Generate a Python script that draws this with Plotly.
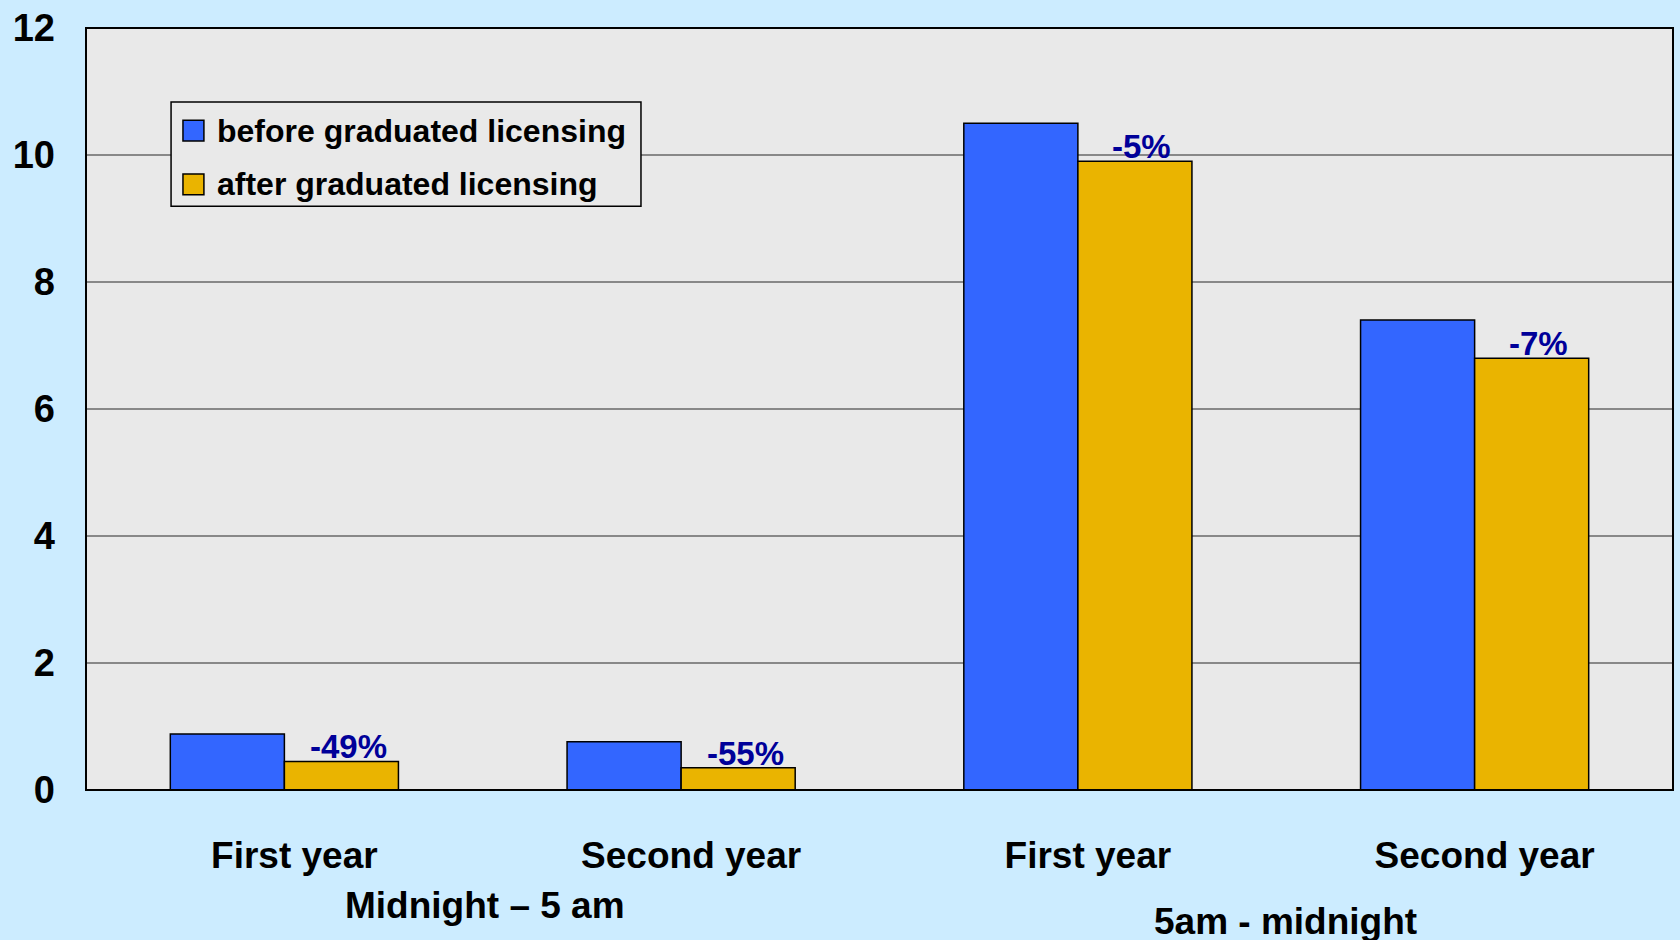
import plotly.graph_objects as go

# Crash involvement data by driver year and time of day
categories = ["First year", "Second year", "First year", "Second year"]
before_values = [0.88, 0.76, 10.5, 7.4]
after_values = [0.45, 0.35, 9.9, 6.8]
pct_change = ["-49%", "-55%", "-5%", "-7%"]
series_names = ["before graduated licensing", "after graduated licensing"]
group_labels = ["Midnight \u2013 5 am", "5am - midnight"]
y_ticks = [0, 2, 4, 6, 8, 10, 12]

BLUE = "#3366FF"
GOLD = "#EAB400"
NAVY = "#000099"
FONT = "Liberation Sans, Arial, sans-serif"
BARGAP = 0.425

x_pos = list(range(len(categories)))

fig = go.Figure()
fig.add_trace(go.Bar(
    x=x_pos, y=before_values, name=series_names[0],
    marker=dict(color=BLUE, line=dict(color="black", width=1.5)),
    showlegend=False,
))
fig.add_trace(go.Bar(
    x=x_pos, y=after_values, name=series_names[1],
    marker=dict(color=GOLD, line=dict(color="black", width=1.5)),
    showlegend=False,
))

fig.update_layout(
    width=1680, height=940, autosize=False,
    margin=dict(l=86, r=7, t=25, b=150),
    paper_bgcolor="#CCECFF", plot_bgcolor="#E9E9E9",
    barmode="group", bargap=BARGAP, bargroupgap=0,
    font=dict(family=FONT, color="black"),
)
fig.update_yaxes(
    range=[0, 12], tickvals=y_ticks, ticktext=[str(v) for v in y_ticks],
    showgrid=True, gridcolor="#888888", gridwidth=1.5,
    zeroline=False, ticks="", ticklabelstandoff=30,
    tickfont=dict(family=FONT, size=38, color="black", weight="bold"),
)
fig.update_xaxes(
    range=[-0.5, 3.5], tickvals=x_pos, ticktext=categories,
    showgrid=False, zeroline=False, ticks="", ticklabelstandoff=40,
    ticklabelshift=10,
    tickfont=dict(family=FONT, size=37, color="black", weight="bold"),
)

shapes = [
    # plot frame
    dict(type="rect", xref="paper", yref="paper", x0=0, x1=1, y0=0, y1=1,
         line=dict(color="black", width=2), layer="above"),
    # legend box
    dict(type="rect", xref="paper", yref="paper", x0=0.0536, x1=0.3497,
         y0=0.766, y1=0.903, fillcolor="#E9E9E9",
         line=dict(color="black", width=1.5), layer="above"),
]
annotations = []

# percent-change labels sit on top of the "after" bars
half_bar = (1 - BARGAP) / 4
for xi, yv, lab in zip(x_pos, after_values, pct_change):
    annotations.append(dict(x=xi + half_bar, y=yv, xref="x", yref="y",
                            xanchor="center", yanchor="bottom",
                            xshift=7, yshift=-6, showarrow=False, text=lab,
                            font=dict(family=FONT, size=33, color=NAVY,
                                      weight="bold")))

legend_rows = [(0.8654, BLUE), (0.7948, GOLD)]
for name, (yc, col) in zip(series_names, legend_rows):
    shapes.append(dict(type="rect", xref="paper", yref="paper",
                       x0=0.0611, x1=0.0743, y0=yc - 0.0137, y1=yc + 0.0137,
                       fillcolor=col, line=dict(color="black", width=1.5),
                       layer="above"))
    annotations.append(dict(xref="paper", yref="paper", x=0.0813, y=yc,
                            xanchor="left", yanchor="middle", showarrow=False,
                            text=name,
                            font=dict(family=FONT, size=32, color="black",
                                      weight="bold")))

for label, (gx, gy) in zip(group_labels, [(0.2514, -0.1516), (0.756, -0.172)]):
    annotations.append(dict(xref="paper", yref="paper", x=gx, y=gy,
                            xanchor="center", yanchor="middle", showarrow=False,
                            text=label,
                            font=dict(family=FONT, size=37, color="black",
                                      weight="bold")))

fig.update_layout(shapes=shapes, annotations=annotations)
fig.write_html("out.html")
